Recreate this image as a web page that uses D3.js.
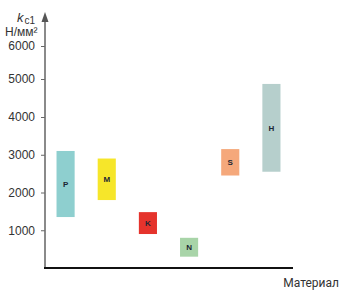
<!DOCTYPE html>
<html><head><meta charset="utf-8">
<script src="https://cdn.jsdelivr.net/npm/d3@7"></script>
<style>body{margin:0;background:#fff;}svg{display:block;}</style>
</head><body><svg id="c" width="351" height="300"></svg>
<script>
const categories = ["P","M","K","N","S","H"];
const lowValues  = [1350, 1800, 900, 300, 2450, 2550];
const highValues = [3100, 2900, 1480, 800, 3150, 4870];
const colors     = ["#8ecfcf","#f6e62a","#e5332c","#a8d4a8","#f5a87b","#b6cfcc"];
const yTicks     = [1000, 2000, 3000, 4000, 5000, 6000];
const xTitle = "Материал";
const yUnit = "Н/мм²";

const svg = d3.select("#c");
const x = d3.scaleBand().domain(categories).range([45, 292]).paddingInner(0.56).paddingOuter(0.28);
const y = d3.scaleLinear().domain([0, 4000, 5000, 6000]).range([268, 117, 79, 46]);

const data = categories.map((c,i)=>({c, lo: lowValues[i], hi: highValues[i], col: colors[i]}));

svg.selectAll("rect.bar").data(data).join("rect").attr("class","bar")
  .attr("x", d=>x(d.c)).attr("width", x.bandwidth())
  .attr("y", d=>y(d.hi)).attr("height", d=>y(d.lo)-y(d.hi))
  .attr("fill", d=>d.col);

svg.selectAll("text.bl").data(data).join("text").attr("class","bl")
  .attr("x", d=>x(d.c)+x.bandwidth()/2).attr("y", d=>(y(d.hi)+y(d.lo))/2)
  .attr("dy","0.35em").attr("text-anchor","middle")
  .attr("font-family","Liberation Sans, Arial, sans-serif").attr("font-weight","bold")
  .attr("font-size", 8).attr("fill","#1c2633").text(d=>d.c);

// y axis
const yAxis = d3.axisLeft(y).tickValues(yTicks).tickSize(4).tickPadding(6).tickFormat(d3.format("d"));
const gy = svg.append("g").attr("transform","translate(45,0)").call(yAxis);
gy.select(".domain").remove();
gy.selectAll(".tick line").attr("stroke","#666");
gy.selectAll(".tick text").attr("font-family","Liberation Sans, Arial, sans-serif").attr("font-size",12).attr("fill","#333");
svg.append("line").attr("x1",45).attr("x2",45).attr("y1",20).attr("y2",268).attr("stroke","#6d6d6d").attr("stroke-width",1.6);
svg.append("path").attr("d","M45,12 L48.5,22 L41.5,22 Z").attr("fill","#555");

// x axis
svg.append("line").attr("x1",44).attr("x2",293).attr("y1",268).attr("y2",268).attr("stroke","#111").attr("stroke-width",2);
svg.append("text").attr("x",339).attr("y",287).attr("text-anchor","end")
  .attr("font-family","Roboto, Liberation Sans, Arial, sans-serif").attr("font-size",12).attr("fill","#333").text(xTitle);

// y title
const t = svg.append("text").attr("x",17).attr("y",22).attr("font-family","Liberation Sans, Arial, sans-serif").attr("fill","#333");
t.append("tspan").attr("font-style","italic").attr("font-size",13).text("k");
t.append("tspan").attr("font-size",10).attr("dy",2).attr("dx",1).text("c1");
svg.append("text").attr("x",5).attr("y",36).attr("font-family","Liberation Sans, Arial, sans-serif").attr("font-size",12).attr("fill","#333").text(yUnit);
</script></body></html>
